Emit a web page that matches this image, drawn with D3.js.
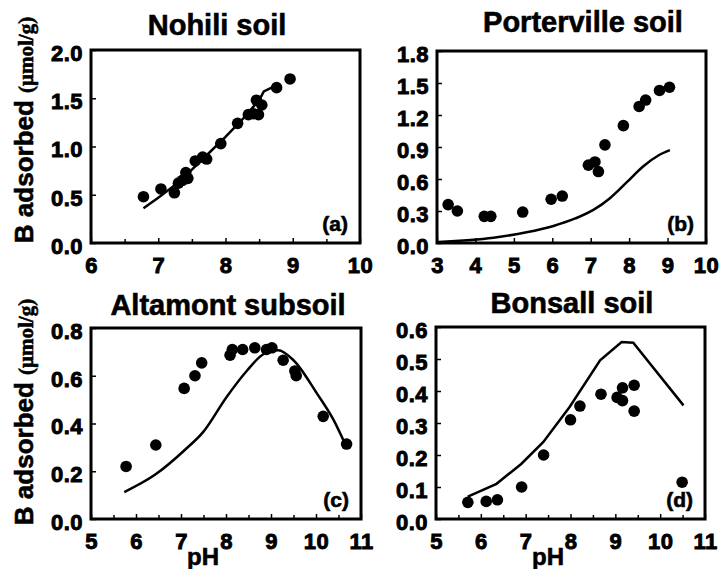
<!DOCTYPE html>
<html>
<head>
<meta charset="utf-8">
<script src="https://cdn.jsdelivr.net/npm/d3@7"></script>
<style>
  body { margin: 0; background: #fff; }
  text { font-family: "Liberation Sans", Arial, sans-serif; font-weight: bold; fill: #000; stroke: #000; stroke-width: 0.6px; }
  .tick text { stroke-width: 0.9px; }
</style>
</head>
<body>
<div id="chart"></div>
<script>
const WIDTH = 721;
const HEIGHT = 569;

// (a) Nohili soil
const phA = [6.78, 7.04, 7.24, 7.30, 7.36, 7.41, 7.44, 7.55, 7.66, 7.72, 7.93, 8.18, 8.34, 8.41, 8.46, 8.49, 8.54, 8.76, 8.96];
const bA = [0.48, 0.56, 0.52, 0.62, 0.65, 0.73, 0.67, 0.85, 0.89, 0.87, 1.03, 1.24, 1.33, 1.34, 1.48, 1.33, 1.43, 1.61, 1.70];
const phFitA = [6.78, 7.0, 7.25, 7.5, 7.75, 8.0, 8.25, 8.5, 8.57, 8.80];
const bFitA = [0.36, 0.47, 0.60, 0.76, 0.93, 1.10, 1.28, 1.48, 1.57, 1.65];

// (b) Porterville soil
const phB = [3.29, 3.53, 4.23, 4.40, 5.23, 5.97, 6.26, 6.94, 7.11, 7.20, 7.37, 7.85, 8.26, 8.43, 8.79, 9.05];
const bB = [0.36, 0.30, 0.25, 0.25, 0.29, 0.41, 0.44, 0.73, 0.76, 0.67, 0.92, 1.10, 1.28, 1.34, 1.43, 1.46];
const phFitB = [3.03, 4.47, 5.33, 6.03, 6.60, 7.07, 7.50, 7.94, 8.37, 8.76, 9.06];
const bFitB = [0.01, 0.05, 0.10, 0.16, 0.23, 0.31, 0.42, 0.57, 0.72, 0.82, 0.87];

// (c) Altamont subsoil
const phC = [5.78, 6.44, 7.07, 7.31, 7.46, 8.09, 8.14, 8.37, 8.64, 8.90, 9.02, 9.27, 9.53, 9.56, 10.16, 10.68];
const bC = [0.22, 0.31, 0.547, 0.60, 0.654, 0.686, 0.71, 0.71, 0.717, 0.71, 0.717, 0.665, 0.62, 0.60, 0.43, 0.314];
const phFitC = [5.74, 6.42, 7.09, 7.50, 8.01, 8.46, 8.83, 9.16, 9.50, 10.02, 10.39, 10.64];
const bFitC = [0.113, 0.185, 0.29, 0.366, 0.51, 0.62, 0.69, 0.707, 0.665, 0.526, 0.415, 0.317];

// (d) Bonsall soil
const phD = [5.71, 6.12, 6.37, 6.91, 7.40, 8.00, 8.21, 8.68, 9.04, 9.16, 9.16, 9.42, 9.42, 10.49];
const bD = [0.052, 0.055, 0.06, 0.10, 0.20, 0.31, 0.353, 0.39, 0.38, 0.41, 0.37, 0.418, 0.337, 0.115];
const phFitD = [5.71, 6.35, 6.90, 7.39, 7.98, 8.66, 9.14, 9.40, 10.52];
const bFitD = [0.07, 0.11, 0.172, 0.24, 0.35, 0.496, 0.553, 0.551, 0.355];

const titles = ['Nohili soil', 'Porterville soil', 'Altamont subsoil', 'Bonsall soil'];
const letters = ['(a)', '(b)', '(c)', '(d)'];
const xDomains = [[6, 10], [3, 10], [5, 11], [5, 11]];
const yDomains = [[0, 2], [0, 1.8], [0, 0.8], [0, 0.6]];
const xTicks = [[6, 7, 8, 9, 10], [3, 4, 5, 6, 7, 8, 9, 10], [5, 6, 7, 8, 9, 10, 11], [5, 6, 7, 8, 9, 10, 11]];
const xMinorTicks = [[6.5, 7.5, 8.5, 9.5], [], [5.5, 6.5, 7.5, 8.5, 9.5, 10.5], [5.5, 6.5, 7.5, 8.5, 9.5, 10.5]];
const yTicks = [[0, 0.5, 1.0, 1.5, 2.0], [0, 0.3, 0.6, 0.9, 1.2, 1.5, 1.8], [0, 0.2, 0.4, 0.6, 0.8], [0, 0.1, 0.2, 0.3, 0.4, 0.5, 0.6]];

const points = [[phA, bA], [phB, bB], [phC, bC], [phD, bD]];
const fits = [[phFitA, bFitA], [phFitB, bFitB], [phFitC, bFitC], [phFitD, bFitD]];
const smoothFit = [false, true, true, false];

// panel frames in page pixels
const frames = [
  { left: 91, right: 360, top: 50, bottom: 243, titleX: 217, titleY: 35 },
  { left: 437, right: 706, top: 51, bottom: 243, titleX: 583, titleY: 32 },
  { left: 91, right: 361, top: 328, bottom: 519, titleX: 228, titleY: 315 },
  { left: 436, right: 705, top: 327, bottom: 519, titleX: 572, titleY: 313 },
];

let svg = d3.select('#chart').append('svg')
  .attr('width', WIDTH)
  .attr('height', HEIGHT);

function zip(xs, ys) {
  return xs.map((x, i) => ({ x: x, y: ys[i] }));
}

function styleTicks(axis) {
  axis.select('.domain').remove();
  axis.selectAll('line').attr('stroke-width', 1.5);
  axis.selectAll('text')
    .attr('font-size', 22)
    .attr('font-weight', 'bold')
    .attr('font-family', '"Liberation Sans", Arial, sans-serif')
    .attr('letter-spacing', 0.5);
}

function buildPanel(i) {
  let f = frames[i];
  let x = d3.scaleLinear().domain(xDomains[i]).range([f.left, f.right]);
  let y = d3.scaleLinear().domain(yDomains[i]).range([f.bottom, f.top]);
  let g = svg.append('g').attr('class', 'panel' + i);

  // minor x ticks
  g.append('g')
    .attr('transform', `translate(0,${f.bottom})`)
    .call(d3.axisBottom(x).tickValues(xMinorTicks[i]).tickSizeInner(-4).tickSizeOuter(0).tickFormat(''))
    .call(styleTicks);

  g.append('g')
    .attr('transform', `translate(0,${f.bottom})`)
    .call(d3.axisBottom(x).tickValues(xTicks[i]).tickSizeInner(-5).tickSizeOuter(0).tickPadding(14).tickFormat(d3.format('d')))
    .call(styleTicks);

  g.append('g')
    .attr('transform', `translate(${f.left},0)`)
    .call(d3.axisLeft(y).tickValues(yTicks[i]).tickSizeInner(-5).tickSizeOuter(0).tickPadding(8).tickFormat(d3.format('.1f')))
    .call(styleTicks)
    .selectAll('text').attr('dy', '0.47em');

  g.append('rect')
    .attr('x', f.left)
    .attr('y', f.top)
    .attr('width', f.right - f.left)
    .attr('height', f.bottom - f.top)
    .attr('fill', 'none')
    .attr('stroke', '#000')
    .attr('stroke-width', 3);

  let line = d3.line()
    .x((d) => x(d.x))
    .y((d) => y(d.y))
    .curve(smoothFit[i] ? d3.curveMonotoneX : d3.curveLinear);
  g.append('path')
    .datum(zip(fits[i][0], fits[i][1]))
    .attr('d', line)
    .attr('fill', 'none')
    .attr('stroke', '#000')
    .attr('stroke-width', 2.5);

  g.selectAll('circle')
    .data(zip(points[i][0], points[i][1]))
    .enter()
    .append('circle')
    .attr('cx', (d) => x(d.x))
    .attr('cy', (d) => y(d.y))
    .attr('r', 5.8)
    .attr('fill', '#000');

  g.append('text')
    .attr('x', f.titleX)
    .attr('y', f.titleY)
    .attr('text-anchor', 'middle')
    .attr('font-size', 29)
    .text(titles[i]);

  g.append('text')
    .attr('x', f.right - 12)
    .attr('y', f.bottom - 12)
    .attr('text-anchor', 'end')
    .attr('font-size', 21)
    .text(letters[i]);
}

function buildYLabel(cx, cy) {
  let t = svg.append('text')
    .attr('transform', `translate(${cx},${cy}) rotate(-90)`)
    .attr('text-anchor', 'middle');
  t.append('tspan').attr('font-size', 26).text('B adsorbed ');
  t.append('tspan')
    .attr('font-size', 21)
    .attr('font-family', '"Liberation Serif", "Times New Roman", serif')
    .text('(\u03bcmol/g)');
}

d3.range(4).forEach(buildPanel);
buildYLabel(33, 130);
buildYLabel(33, 412);

// pH labels under the bottom panels
[[203, 565], [548, 565]].forEach(([px, py]) => {
  svg.append('text')
    .attr('x', px)
    .attr('y', py)
    .attr('text-anchor', 'middle')
    .attr('font-size', 24)
    .text('pH');
});
</script>
</body>
</html>
